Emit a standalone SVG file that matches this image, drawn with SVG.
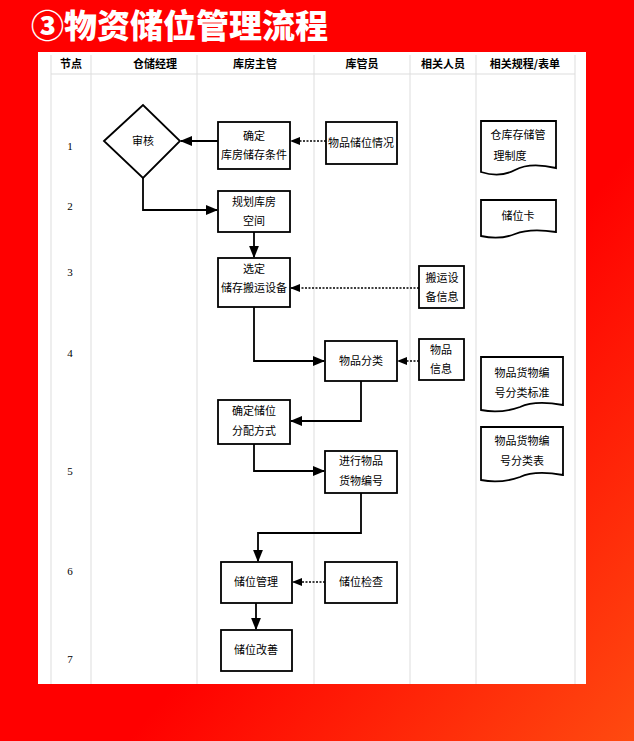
<svg xmlns="http://www.w3.org/2000/svg" width="634" height="741" viewBox="0 0 634 741">
<defs>
<linearGradient id="bg" x1="0" y1="0" x2="1" y2="1">
<stop offset="0" stop-color="#ff0000"/><stop offset="0.6" stop-color="#ff0000"/><stop offset="1" stop-color="#ff4a10"/>
</linearGradient>
<marker id="ah" viewBox="0 0 10 10" refX="9" refY="5" markerWidth="7" markerHeight="7" orient="auto"><path d="M0,1 L10,5 L0,9 z" fill="#000"/></marker>
<style>
.t{font-family:"Noto Sans CJK SC","Liberation Sans",sans-serif;font-size:11px;fill:#000;text-anchor:middle}
.h{font-family:"Noto Sans CJK SC",sans-serif;font-size:11px;font-weight:bold;text-anchor:middle}
.n{font-family:"Liberation Serif",serif;font-size:11px;text-anchor:middle}
.b{fill:#fff;stroke:#000;stroke-width:1.8}
.g{stroke:#ddd;stroke-width:1}
.c{fill:none;stroke:#000;stroke-width:1.8;marker-end:url(#ah)}
.d{fill:none;stroke:#000;stroke-width:1.5;stroke-dasharray:2 1.5;marker-end:url(#ah)}
</style>
</defs>
<rect width="634" height="741" fill="url(#bg)"/>
<text x="31" y="38" font-family="Noto Sans CJK SC,sans-serif" font-size="33" font-weight="900" fill="#fff">③物资储位管理流程</text>
<rect x="38" y="52" width="548" height="632" fill="#fff"/>
<g id="grid">
<line class="g" x1="51" y1="55" x2="51" y2="684"/><line class="g" x1="91" y1="55" x2="91" y2="684"/>
<line class="g" x1="197" y1="55" x2="197" y2="684"/><line class="g" x1="314" y1="55" x2="314" y2="684"/>
<line class="g" x1="410" y1="55" x2="410" y2="684"/><line class="g" x1="476" y1="55" x2="476" y2="684"/>
<line class="g" x1="575" y1="55" x2="575" y2="684"/><line class="g" x1="51" y1="74" x2="575" y2="74"/>
</g>
<g id="header">
<text class="h" x="71" y="68">节点</text><text class="h" x="155" y="68">仓储经理</text><text class="h" x="255" y="68">库房主管</text>
<text class="h" x="362" y="68">库管员</text><text class="h" x="443" y="68">相关人员</text><text class="h" x="525" y="68">相关规程/表单</text>
</g>
<g id="nums">
<text class="n" x="70" y="150">1</text><text class="n" x="70" y="210">2</text><text class="n" x="70" y="276">3</text>
<text class="n" x="70" y="357">4</text><text class="n" x="70" y="475">5</text><text class="n" x="70" y="575">6</text><text class="n" x="70" y="663">7</text>
</g>
<g id="connectors">
<line class="c" x1="218" y1="141" x2="181" y2="141"/>
<line class="d" x1="326" y1="141" x2="291" y2="141"/>
<polyline class="c" points="143,178 143,210 217,210"/>
<line class="c" x1="254" y1="232" x2="254" y2="257"/>
<line class="d" x1="419" y1="288" x2="291" y2="288"/>
<polyline class="c" points="254,307 254,361 324,361"/>
<line class="d" x1="419" y1="361" x2="398" y2="361"/>
<polyline class="c" points="361,381 361,421 291,421"/>
<polyline class="c" points="254,444 254,471 324,471"/>
<polyline class="c" points="361,493 361,533 258,533 258,561"/>
<line class="d" x1="325" y1="582" x2="293" y2="582"/>
<line class="c" x1="256" y1="603" x2="256" y2="629"/>
</g>
<g id="n-shenhe"><polygon class="b" points="104,141 143,105 180,141 143,178"/><text class="t" x="143" y="145">审核</text></g>
<g id="n-queding"><rect class="b" x="218" y="122" width="72" height="47"/><text class="t" x="254" y="140">确定</text><text class="t" x="254" y="159">库房储存条件</text></g>
<g id="n-wupinchuwei"><rect class="b" x="326" y="122" width="71" height="42"/><text class="t" x="361" y="147">物品储位情况</text></g>
<g id="n-doc1"><path class="b" d="M481,121 H556 V168 Q530,162 515,170 Q500,178 481,172 Z"/><text class="t" x="518" y="139">仓库存储管</text><text class="t" x="510" y="160">理制度</text></g>
<g id="n-guihua"><rect class="b" x="218" y="191" width="72" height="41"/><text class="t" x="254" y="206">规划库房</text><text class="t" x="254" y="225">空间</text></g>
<g id="n-doc2"><path class="b" d="M481,200 H556 V232 Q530,228 515,234 Q500,240 481,236 Z"/><text class="t" x="518" y="220">储位卡</text></g>
<g id="n-xuanding"><rect class="b" x="218" y="258" width="72" height="49"/><text class="t" x="254" y="273">选定</text><text class="t" x="254" y="292">储存搬运设备</text></g>
<g id="n-banyun"><rect class="b" x="419" y="266" width="45" height="42"/><text class="t" x="442" y="282">搬运设</text><text class="t" x="442" y="301">备信息</text></g>
<g id="n-fenlei"><rect class="b" x="325" y="341" width="72" height="40"/><text class="t" x="361" y="365">物品分类</text></g>
<g id="n-xinxi"><rect class="b" x="419" y="339" width="45" height="41"/><text class="t" x="441" y="354">物品</text><text class="t" x="441" y="373">信息</text></g>
<g id="n-doc3"><path class="b" d="M481,357 H563 V405 Q535,400 520,407 Q500,414 481,410 Z"/><text class="t" x="522" y="377">物品货物编</text><text class="t" x="522" y="397">号分类标准</text></g>
<g id="n-fenpei"><rect class="b" x="218" y="400" width="72" height="44"/><text class="t" x="254" y="415">确定储位</text><text class="t" x="254" y="435">分配方式</text></g>
<g id="n-doc4"><path class="b" d="M481,427 H563 V475 Q535,470 520,477 Q500,484 481,480 Z"/><text class="t" x="522" y="445">物品货物编</text><text class="t" x="522" y="465">号分类表</text></g>
<g id="n-bianhao"><rect class="b" x="325" y="451" width="72" height="42"/><text class="t" x="361" y="465">进行物品</text><text class="t" x="361" y="485">货物编号</text></g>
<g id="n-guanli"><rect class="b" x="221" y="562" width="71" height="41"/><text class="t" x="256" y="586">储位管理</text></g>
<g id="n-jiancha"><rect class="b" x="325" y="562" width="72" height="41"/><text class="t" x="361" y="586">储位检查</text></g>
<g id="n-gaishan"><rect class="b" x="221" y="630" width="71" height="41"/><text class="t" x="256" y="654">储位改善</text></g>
</svg>
